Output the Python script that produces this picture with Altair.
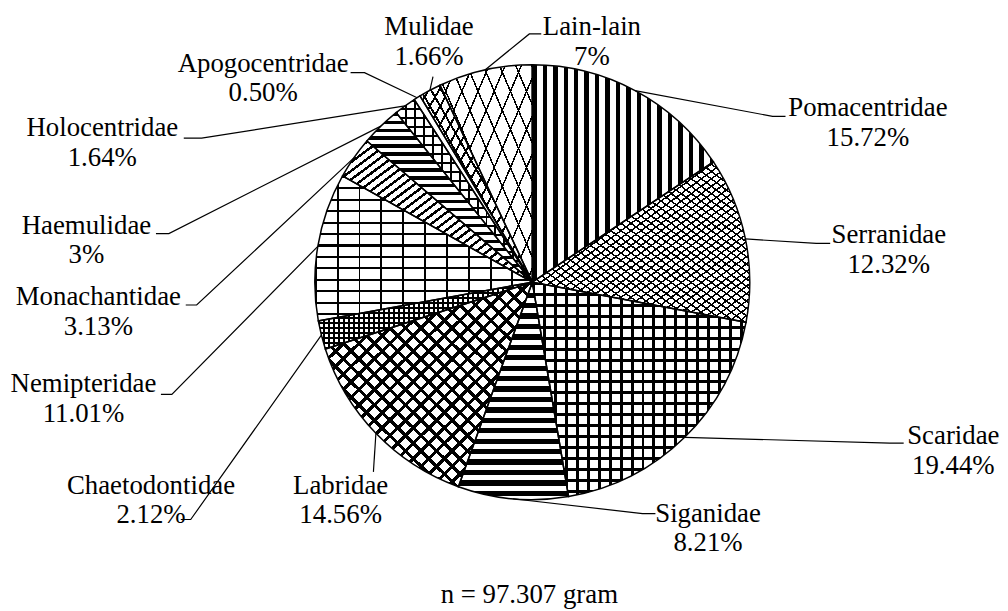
import math
import altair as alt
import pandas as pd

# ---------------- data ----------------
families = ["Pomacentridae", "Serranidae", "Scaridae", "Siganidae", "Labridae",
            "Chaetodontidae", "Nemipteridae", "Monachantidae", "Haemulidae",
            "Holocentridae", "Apogocentridae", "Mulidae", "Lain-lain"]
percent = [15.72, 12.32, 19.44, 8.21, 14.56, 2.12, 11.01, 3.13, 3.0, 1.64, 0.50, 1.66, 7.0]
pct_text = ["15.72%", "12.32%", "19.44%", "8.21%", "14.56%", "2.12%", "11.01%",
            "3.13%", "3%", "1.64%", "0.50%", "1.66%", "7%"]
caption = "n = 97.307 gram"

# ---------------- layout (page pixels) ----------------
CX, CY, R = 536, 282, 219
W, H = 992, 595
FONT = "Liberation Serif, Times New Roman, Times, serif"
FS = 27

label_pos = {  # centre x, baseline y of the family name
    "Pomacentridae": (874, 115), "Serranidae": (895, 243), "Scaridae": (960, 445),
    "Siganidae": (713, 523), "Labridae": (343, 495), "Chaetodontidae": (152, 495),
    "Nemipteridae": (84, 393), "Monachantidae": (99, 305), "Haemulidae": (87, 233),
    "Holocentridae": (103, 135), "Apogocentridae": (265, 70), "Mulidae": (432, 33),
    "Lain-lain": (596, 33),
}
leader_tail = {  # leader points after the pie-edge start
    "Pomacentridae": [(778, 115), (791, 115)], "Serranidae": [(822, 243), (836, 243)],
    "Scaridae": [(896, 444), (910, 444)], "Siganidae": [(647, 515), (660, 515)],
    "Labridae": [(376, 473)], "Chaetodontidae": [(192, 521), (182, 521)],
    "Nemipteridae": [(173, 395), (162, 395)], "Monachantidae": [(198, 305), (187, 305)],
    "Haemulidae": [(170, 233), (157, 233)], "Holocentridae": [(203, 137), (185, 137)],
    "Apogocentridae": [(367, 71), (353, 71)], "Mulidae": [(436, 75)],
    "Lain-lain": [(533, 32), (545, 32)],
}
# pattern styles: (direction, period px, black fraction)
patterns = {
    "Pomacentridae": [("v", 10.5, 0.42)],
    "Serranidae": [("d1", 6, 0.25), ("d2", 6, 0.25)],
    "Scaridae": [("v", 11, 0.27), ("h", 11, 0.27)],
    "Siganidae": [("h", 10.5, 0.5)],
    "Labridae": [("d1", 11, 0.3), ("d2", 11, 0.3)],
    "Chaetodontidae": [("v", 5, 0.4), ("h", 5, 0.4)],
    "Nemipteridae": [("h", 11.5, 0.18), ("v", 22, 0.09)],
    "Monachantidae": [("d1", 7, 0.35)],
    "Haemulidae": [("h", 8, 0.42)],
    "Holocentridae": [("v", 9, 0.22), ("h", 9, 0.22)],
    "Apogocentridae": [],
    "Mulidae": [("d1", 9, 0.22), ("d2", 9, 0.22)],
    "Lain-lain": [("d1", 15, 0.1), ("d2", 15, 0.1)],
}

# ---------------- derived tables ----------------
total = sum(percent)
t0, t1, acc = [], [], 0.0
for v in percent:
    t0.append(acc)
    acc += v
    t1.append(acc)
df = pd.DataFrame({"name": families, "value": percent, "pct": pct_text, "t0": t0, "t1": t1})


def ang(t):
    return t / total * 2 * math.pi


def bbox(a0, a1):
    pts = [(0.0, 0.0), (R * math.sin(a0), -R * math.cos(a0)), (R * math.sin(a1), -R * math.cos(a1))]
    for c in [0, math.pi / 2, math.pi, 1.5 * math.pi, 2 * math.pi]:
        if a0 < c < a1:
            pts.append((R * math.sin(c), -R * math.cos(c)))
    xs_ = [p[0] for p in pts]
    ys_ = [p[1] for p in pts]
    return max(max(xs_) - min(xs_), 1.0), max(max(ys_) - min(ys_), 1.0)


def stripes(kind, p, f, w, h):
    clear = "rgba(255,255,255,0)"
    if kind == "v":
        L, vec = w, dict(x1=0, y1=0, x2=1, y2=0)
    elif kind == "h":
        L, vec = h, dict(x1=0, y1=0, x2=0, y2=1)
    else:
        L = 2 / math.sqrt(1 / w ** 2 + 1 / h ** 2)
        vec = dict(x1=0, y1=0, x2=1, y2=1) if kind == "d1" else dict(x1=1, y1=0, x2=0, y2=1)
    n = L / p
    stops = []
    k = 0
    while k < n:
        a = round(k / n, 5)
        b = round(min((k + f) / n, 1), 5)
        c = round(min((k + 1) / n, 1), 5)
        stops += [{"offset": a, "color": "black"}, {"offset": b, "color": "black"},
                  {"offset": b, "color": clear}, {"offset": c, "color": clear}]
        k += 1
    return alt.LinearGradient(gradient="linear", stops=stops, **vec)


lead_rows = []
for i, fam in enumerate(families):
    mid = ang((t0[i] + t1[i]) / 2)
    pts = [(CX + R * math.sin(mid), CY - R * math.cos(mid))] + leader_tail[fam]
    for k, (x, y) in enumerate(pts):
        lead_rows.append({"name": fam, "k": k, "x": x, "y": y})
lead_df = pd.DataFrame(lead_rows)

lab_df = pd.DataFrame({
    "name": families, "pct": pct_text,
    "lx": [label_pos[f][0] for f in families],
    "ly": [label_pos[f][1] for f in families],
})
cap_df = pd.DataFrame({"text": [caption], "x": [533], "y": [605]})

# ---------------- scales ----------------
xs = alt.Scale(domain=[8, 8 + W], range=[0, W], nice=False, zero=False)
ys = alt.Scale(domain=[8, 8 + H], range=[0, H], nice=False, zero=False)
ts = alt.Scale(domain=[0, total], range=[0, 2 * math.pi], nice=False, zero=False)

arc_enc = dict(
    theta=alt.Theta("t0:Q", scale=ts),
    theta2="t1:Q",
    x=alt.XDatum(CX, scale=xs, axis=None),
    y=alt.YDatum(CY, scale=ys, axis=None),
)

base = alt.Chart(df)
layers = [base.mark_arc(outerRadius=R, fill="white", strokeWidth=0).encode(**arc_enc)]

for i, fam in enumerate(families):
    w, h = bbox(ang(t0[i]), ang(t1[i]))
    for kind, p, f in patterns[fam]:
        g = stripes(kind, p, f, w, h)
        layers.append(
            base.mark_arc(outerRadius=R, fill=g, strokeWidth=0)
            .encode(**arc_enc)
            .transform_filter(alt.datum.name == fam)
        )

layers.append(
    base.mark_arc(outerRadius=R, fillOpacity=0, stroke="black", strokeWidth=1.5)
    .encode(**arc_enc)
)

layers.append(
    alt.Chart(lead_df).mark_line(color="black", strokeWidth=1.2).encode(
        x=alt.X("x:Q", scale=xs, axis=None),
        y=alt.Y("y:Q", scale=ys, axis=None),
        detail="name:N",
        order="k:Q",
    )
)

txt = dict(font=FONT, fontSize=FS, color="black", align="center", baseline="alphabetic")
layers.append(
    alt.Chart(lab_df).mark_text(**txt).encode(
        x=alt.X("lx:Q", scale=xs, axis=None), y=alt.Y("ly:Q", scale=ys, axis=None), text="name:N")
)
layers.append(
    alt.Chart(lab_df).mark_text(dy=30, **txt).encode(
        x=alt.X("lx:Q", scale=xs, axis=None), y=alt.Y("ly:Q", scale=ys, axis=None), text="pct:N")
)
layers.append(
    alt.Chart(cap_df).mark_text(**txt).encode(
        x=alt.X("x:Q", scale=xs, axis=None), y=alt.Y("y:Q", scale=ys, axis=None), text="text:N")
)

chart = (
    alt.layer(*layers)
    .properties(width=W, height=H, padding=0, background="white")
    .configure_view(stroke=None)
)

chart.save("out.html", embed_options={"renderer": "svg", "actions": False})
